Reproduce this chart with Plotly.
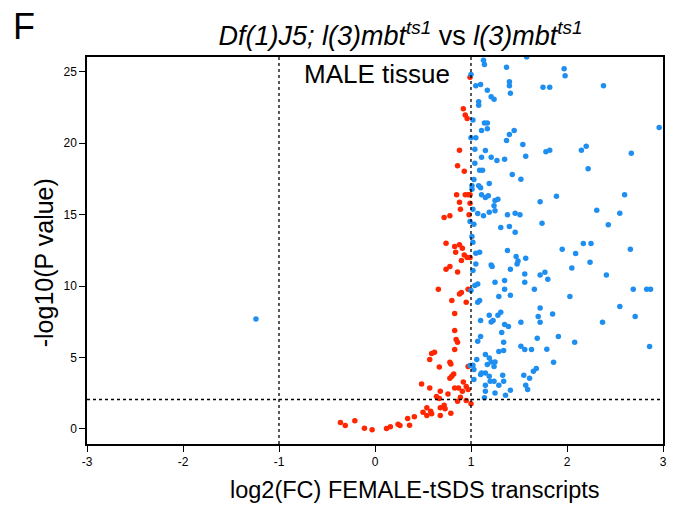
import plotly.graph_objects as go

# Down-regulated / non-significant (red) transcripts: log2FC and -log10(P)
red_x = [-0.36, -0.31, -0.21, -0.11, -0.03, 0.12, 0.16, 0.24, 0.26, 0.34, 0.36, 0.41, 0.50, 0.485, 0.54,
         0.83, 0.83, 0.845, 0.86, 0.83, 0.59, 0.62, 0.57, 0.78, 0.79, 0.67, 0.97, 0.82, 0.80, 0.78, 0.92,
         0.83, 0.87, 0.95, 0.97, 0.91, 0.57, 0.68, 0.64, 0.67, 0.76, 0.89, 0.86, 0.95, 1.00, 0.72, 0.73,
         0.68, 0.79, 0.68, 0.54, 0.58, 0.59,
         0.85, 0.94, 0.97, 0.99, 0.88, 0.99, 0.89, 0.98, 0.72, 0.78, 0.74, 0.83, 0.88, 0.91, 0.84, 0.93,
         0.96, 0.99, 0.90, 0.78, 0.74, 0.86, 0.66, 0.88, 0.90, 0.97, 0.80, 0.95,
         0.99, 0.92, 0.94, 0.96, 0.88, 0.86, 0.93]
red_y = [0.44, 0.23, 0.56, 0.05, -0.07, 0.02, 0.14, 0.33, 0.23, 0.72, 0.26, 0.84, 1.17, 3.15, 0.93,
         8.08, 6.89, 6.26, 6.07, 5.56, 5.28, 5.37, 4.86, 4.67, 4.55, 4.34, 4.37, 3.85, 3.69, 3.55, 3.29,
         2.87, 2.87, 2.96, 2.75, 2.64, 2.87, 2.64, 2.26, 2.12, 2.45, 2.22, 1.94, 1.98, 1.75, 1.66, 1.40,
         1.47, 1.10, 0.93, 1.47, 1.24, 1.05,
         16.39, 16.39, 16.39, 16.39, 15.87, 15.80, 15.38, 14.99, 14.80, 14.92, 13.00, 12.77, 12.89, 12.65,
         12.37, 12.18, 12.00, 12.00, 11.79, 11.37, 11.18, 10.99, 9.78, 9.45, 9.55, 9.78, 8.99, 8.87,
         24.63, 22.41, 21.97, 21.73, 19.51, 18.42, 18.04]

# Up-regulated (blue) transcripts
blue_x = [1.58, 1.13, 1.14, 1.37, 1.00, 1.05, 1.10, 1.17, 1.40, 1.40, 1.41, 1.21, 1.24, 1.08, 1.08,
          1.02, 1.14, 1.17, 1.11, 1.17, 1.45, 1.40, 1.37, 1.00, 1.05, 1.54, 1.04, 1.15, 1.57, 1.11,
          1.21, 1.27, 1.35, 1.04, 1.09, 1.12, 1.43, 1.52, 1.03,
          1.01, 1.01, 1.08, 1.10, 1.19, 1.11, 1.15, 1.18, 1.25, 1.28, 1.24, 1.25, 1.19, 1.07, 1.13,
          1.02, 1.38, 1.46, 1.51, 0.99, 1.03, 1.31, 1.40, 1.46, 1.01, 1.02, 1.38, 1.05, 1.09, 1.47,
          1.57, 1.49, 1.48, 1.05, 1.21, 1.22, 1.02, 1.41, 1.56, 1.25, 1.35, 1.07, 1.04, 1.56, 1.66,
          1.35, 1.00, 1.29, 1.41, 1.09, 1.07,
          1.19, 1.28, 1.31, 1.10, 1.21, 1.23, 1.35, 1.39, 1.52, 1.32, 1.10, 1.07, 1.34, 1.52, 1.56,
          1.63, 1.29, 1.34, 1.15, 1.19, 1.06, 1.21, 1.25, 1.17, 1.24, 1.02, 0.99, 1.03, 1.11, 1.15,
          1.10, 1.19, 1.33, 1.03, 1.20, 1.24, 1.15, 1.29, 1.34, 1.55, 1.57, 1.59, 1.65, 1.68, 1.15,
          1.25, 1.36, 1.41, 1.14, 1.61,
          1.97, 1.98, 1.75, 1.82, 2.38, 2.96, 1.78, 1.82, 2.15, 2.20, 2.67, 2.22, 1.89, 2.60, 1.72,
          2.31, 2.55, 1.74, 2.43,
          1.95, 2.09, 2.17, 2.25, 2.24, 2.05, 2.66, 2.41, 1.72, 1.77, 1.80, 2.03, 2.69, 2.83, 2.87,
          1.72, 1.70, 1.72, 1.85, 2.55, 2.71, 2.37, 1.69, 1.91, 2.08, 2.86, 1.79, 1.86,
          -1.24]
blue_y = [26.05, 25.82, 25.51, 25.33, 24.81, 24.02, 24.11, 23.72, 24.30, 24.02, 23.51, 23.25, 23.09, 22.90, 22.67,
          21.62, 21.41, 21.41, 20.89, 21.01, 20.89, 20.61, 20.19, 20.38, 20.38, 19.91, 19.58, 19.49, 19.09, 19.02,
          19.02, 18.79, 18.88, 18.60, 18.11, 18.11, 17.81, 17.48, 17.46,
          17.02, 16.78, 17.02, 16.88, 17.18, 16.39, 16.20, 16.32, 15.99, 16.08, 15.62, 15.27, 15.17, 15.08, 14.92,
          15.38, 14.99, 15.10, 14.99, 14.52, 14.33, 14.10, 14.17, 13.77, 13.47, 13.07, 12.49, 12.30, 12.37, 12.07,
          11.95, 11.76, 11.55, 11.55, 11.48, 11.37, 11.09, 11.18, 10.85, 10.27, 10.39, 10.15, 10.04, 10.27, 9.78,
          9.78, 9.69, 9.27, 9.36, 8.99, 8.87,
          7.96, 7.96, 8.17, 7.59, 7.49, 7.59, 7.31, 7.17, 7.47, 6.75, 6.47, 6.14, 6.07, 5.79, 5.56,
          5.56, 5.42, 5.49, 5.21, 4.97, 4.86, 4.69, 4.69, 4.51, 4.37, 4.46, 4.44, 4.15, 3.92, 3.92,
          3.80, 3.69, 3.76, 3.45, 3.34, 3.34, 3.06, 3.06, 3.34, 3.76, 3.06, 2.75, 4.04, 4.22, 2.64,
          2.52, 2.36, 2.71, 2.17, 3.55,
          25.21, 24.72, 23.93, 23.93, 24.02, 21.10, 19.40, 19.51, 19.51, 19.79, 19.30, 18.21, 16.29, 16.39, 15.90,
          15.31, 15.10, 14.40, 14.29,
          12.58, 12.28, 12.98, 12.98, 11.67, 11.27, 12.58, 10.78, 10.78, 10.97, 10.48, 9.27, 9.78, 9.78, 9.78,
          8.47, 7.87, 7.47, 8.05, 8.57, 7.87, 7.47, 6.35, 6.47, 6.07, 5.77, 5.58, 4.67,
          7.70]

x_ticks = [-3, -2, -1, 0, 1, 2, 3]
y_ticks = [0, 5, 10, 15, 20, 25]
fc_threshold = [-1, 1]
p_threshold = 2.05

FONT = "Liberation Sans, Arial, Helvetica, sans-serif"
RED = "#FF2600"
BLUE = "#1F8EF1"

fig = go.Figure()
fig.add_trace(go.Scatter(x=red_x, y=red_y, mode="markers",
                         marker=dict(color=RED, size=5.5, line=dict(width=0)),
                         showlegend=False, hoverinfo="x+y"))
fig.add_trace(go.Scatter(x=blue_x, y=blue_y, mode="markers",
                         marker=dict(color=BLUE, size=5.5, line=dict(width=0)),
                         showlegend=False, hoverinfo="x+y"))

for xv in fc_threshold:
    fig.add_vline(x=xv, line=dict(color="black", width=1.3, dash="dot"))
fig.add_hline(y=p_threshold, line=dict(color="black", width=1.5, dash="dot"))

fig.update_xaxes(range=[-3, 3], tickvals=x_ticks, ticktext=[str(v) for v in x_ticks],
                 showgrid=False, zeroline=False, showline=True, linecolor="black", linewidth=1.5,
                 mirror=True, ticks="outside", ticklen=6, tickwidth=1.3, tickcolor="black",
                 tickfont=dict(size=12, color="black", family=FONT))
fig.update_yaxes(range=[-1.06, 26.04], tickvals=y_ticks, ticktext=[str(v) for v in y_ticks],
                 showgrid=False, zeroline=False, showline=True, linecolor="black", linewidth=1.5,
                 mirror=True, ticks="outside", ticklen=6, tickwidth=1.3, tickcolor="black",
                 tickfont=dict(size=12, color="black", family=FONT))

fig.update_layout(
    width=673, height=506,
    margin=dict(l=87, r=6, t=57, b=62),
    paper_bgcolor="white", plot_bgcolor="white",
    title=dict(text="<i>Df(1)J5; l(3)mbt<sup>ts1</sup></i> vs <i>l(3)mbt<sup>ts1</sup></i>",
               x=0.595, xanchor="center", y=0.93, yanchor="middle",
               font=dict(size=27, color="black", family=FONT)),
    annotations=[
        dict(text="F", xref="paper", yref="paper", x=-0.132, y=1.08,
             xanchor="left", yanchor="middle", showarrow=False,
             font=dict(size=36, color="black", family=FONT)),
        dict(text="MALE tissue", xref="paper", yref="paper", x=0.503, y=0.955,
             xanchor="center", yanchor="middle", showarrow=False,
             font=dict(size=26, color="black", family=FONT)),
        dict(text="log2(FC) FEMALE-tSDS transcripts", xref="paper", yref="paper",
             x=0.569, y=-0.119, xanchor="center", yanchor="middle", showarrow=False,
             font=dict(size=23.5, color="black", family=FONT)),
        dict(text="-log10(P value)", xref="paper", yref="paper", textangle=-90,
             x=-0.074, y=0.468, xanchor="center", yanchor="middle", showarrow=False,
             font=dict(size=25, color="black", family=FONT)),
    ],
)

fig.write_html("out.html")
